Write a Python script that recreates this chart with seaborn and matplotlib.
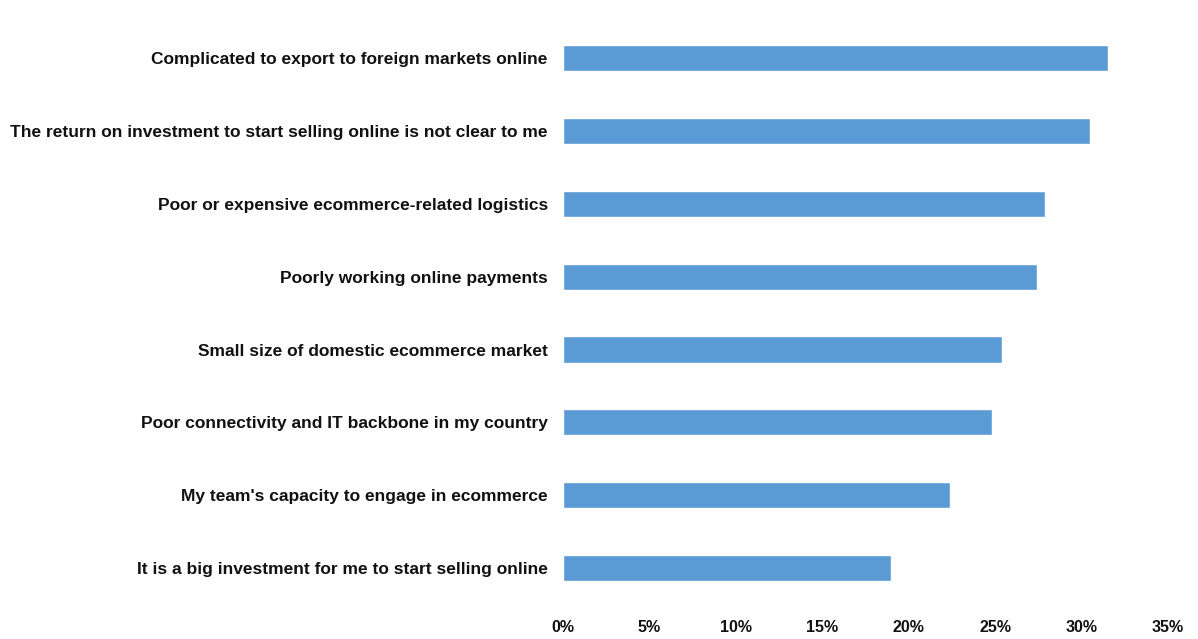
import matplotlib
matplotlib.use("Agg")
import matplotlib.pyplot as plt
from matplotlib.ticker import PercentFormatter
import seaborn as sns
import pandas as pd

barriers = [
    "Complicated to export to foreign markets online",
    "The return on investment to start selling online is not clear to me",
    "Poor or expensive ecommerce-related logistics",
    "Poorly working online payments",
    "Small size of domestic ecommerce market",
    "Poor connectivity and IT backbone in my country",
    "My team's capacity to engage in ecommerce",
    "It is a big investment for me to start selling online",
]
share_pct = [31.5, 30.5, 27.9, 27.4, 25.4, 24.8, 22.4, 19.0]
x_ticks = [0, 5, 10, 15, 20, 25, 30, 35]

df = pd.DataFrame({"barrier": barriers, "share": share_pct})

sns.set_theme(style="white")
plt.rcParams["font.family"] = ["Liberation Sans", "DejaVu Sans"]

fig = plt.figure(figsize=(11.98, 6.39), dpi=100)
ax = fig.add_axes([0.470, 0.054, 0.505, 0.912])

sns.barplot(data=df, x="share", y="barrier", orient="h",
            color="#5b9bd5", saturation=1, width=0.36, ax=ax)

ax.set_xlim(0, 35)
ax.set_xticks(x_ticks)
ax.xaxis.set_major_formatter(PercentFormatter(decimals=0))
ax.set_ylim(7.5, -0.5)
ax.set_xlabel("")
ax.set_ylabel("")
for s in ax.spines.values():
    s.set_visible(False)
ax.tick_params(axis="x", length=0, pad=11, labelsize=11.5)
ax.tick_params(axis="y", length=0, pad=11, labelsize=12.5)
for lbl in ax.get_xticklabels() + ax.get_yticklabels():
    lbl.set_fontweight("bold")
    lbl.set_color("#111111")

fig.savefig("out.png", dpi=100, facecolor="white")
